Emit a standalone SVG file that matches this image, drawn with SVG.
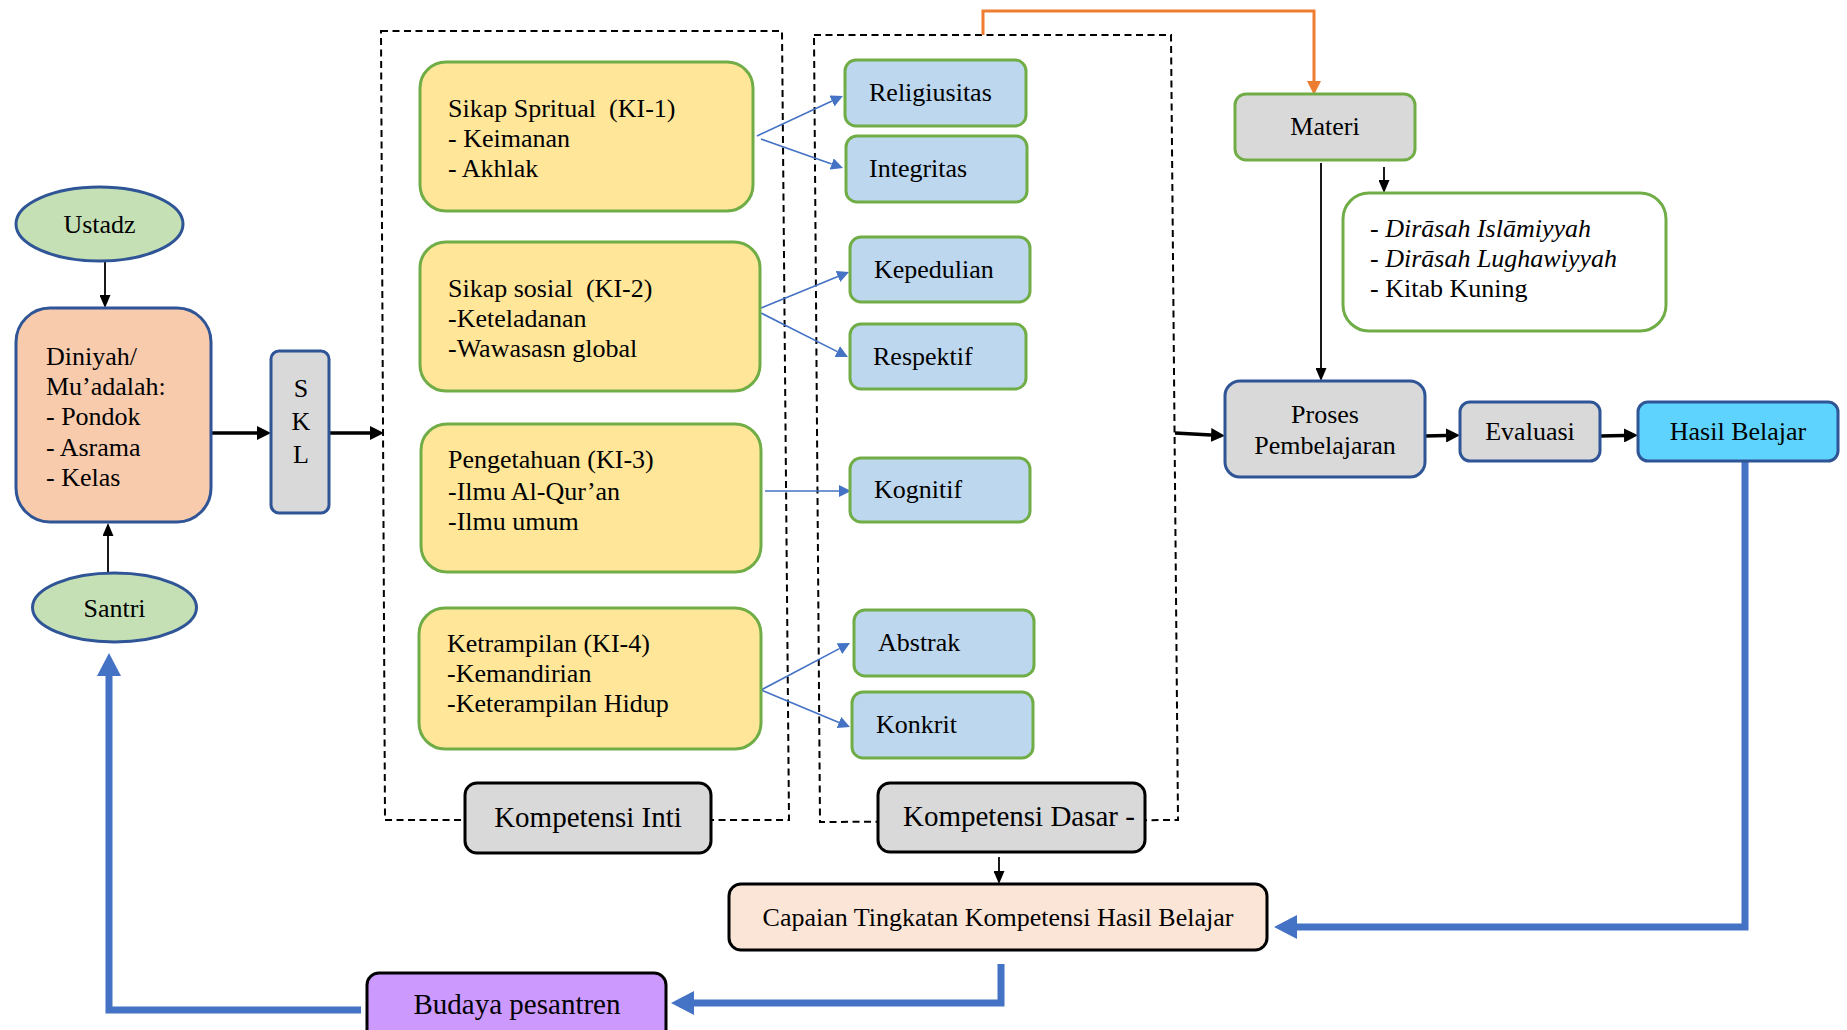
<svg xmlns="http://www.w3.org/2000/svg" width="1847" height="1030" viewBox="0 0 1847 1030">
<defs>
<style>
text{font-family:"Liberation Serif","Times New Roman",serif;font-size:26px;fill:#000}
.c{text-anchor:middle}
.big{font-size:29px}
.it{font-style:italic}
.dash{fill:none;stroke:#000;stroke-width:2;stroke-dasharray:7 4.5}
.yel{fill:#FFE699;stroke:#70AD47;stroke-width:3}
.blu{fill:#BDD7EE;stroke:#70AD47;stroke-width:3}
.gry{fill:#D9D9D9;stroke:#2F5597;stroke-width:3}
.gryk{fill:#D9D9D9;stroke:#000;stroke-width:3}
.thin{fill:none;stroke:#000;stroke-width:1.8}
.thick{fill:none;stroke:#000;stroke-width:3.5}
.bthin{fill:none;stroke:#4472C4;stroke-width:1.6}
.bthick{fill:none;stroke:#4472C4;stroke-width:7}
.orange{fill:none;stroke:#ED7D31;stroke-width:3}
</style>
<marker id="ab" markerUnits="userSpaceOnUse" markerWidth="13" markerHeight="11" refX="0" refY="5.5" orient="auto"><path d="M0,0 L13,5.5 L0,11 z" fill="#000"/></marker>
<marker id="abk" markerUnits="userSpaceOnUse" markerWidth="14" markerHeight="14" refX="0" refY="7" orient="auto"><path d="M0,0 L14,7 L0,14 z" fill="#000"/></marker>
<marker id="abt" markerUnits="userSpaceOnUse" markerWidth="12" markerHeight="12" refX="0" refY="6" orient="auto"><path d="M0,0 L12,6 L0,12 z" fill="#4472C4"/></marker>
<marker id="abb" markerUnits="userSpaceOnUse" markerWidth="23" markerHeight="24" refX="0" refY="12" orient="auto"><path d="M0,0 L23,12 L0,24 z" fill="#4472C4"/></marker>
<marker id="ao" markerUnits="userSpaceOnUse" markerWidth="14" markerHeight="14" refX="0" refY="7" orient="auto"><path d="M0,0 L14,7 L0,14 z" fill="#ED7D31"/></marker>
</defs>

<g id="frames">
<path class="dash" d="M381,31 L782,31 L789,820 L385,820 Z"/>
<path class="dash" d="M814,35 L1171,35 L1178,820 L820,822 Z"/>
</g>

<g id="connectors">
<path class="thin" d="M105,262 L105,295" marker-end="url(#ab)"/>
<path class="thin" d="M108,572 L108,536" marker-end="url(#ab)"/>
<path class="thick" d="M211,433 L257,433" marker-end="url(#abk)"/>
<path class="thick" d="M329,433 L370,433" marker-end="url(#abk)"/>
<path class="thick" d="M1175,433 L1211,435" marker-end="url(#abk)"/>
<path class="thick" d="M1425,436 L1446,435.5" marker-end="url(#abk)"/>
<path class="thick" d="M1600,436 L1624,435.5" marker-end="url(#abk)"/>
<path class="thin" d="M1321,163 L1321,368" marker-end="url(#ab)"/>
<path class="thin" d="M1384,167 L1384,180" marker-end="url(#ab)"/>
<path class="thin" d="M999,857 L999,871" marker-end="url(#ab)"/>
<path class="orange" d="M983,35 L983,11 L1314,11 L1314,81" marker-end="url(#ao)"/>
<path class="bthick" d="M1745,461 L1745,927 L1297,927" marker-end="url(#abb)"/>
<path class="bthick" d="M1001,964 L1001,1003 L694,1003" marker-end="url(#abb)"/>
<path class="bthick" d="M361,1010 L109,1010 L109,676" marker-end="url(#abb)"/>
<path class="bthin" d="M757,136 L832,101" marker-end="url(#abt)"/>
<path class="bthin" d="M761,139 L831.7,164" marker-end="url(#abt)"/>
<path class="bthin" d="M761,308 L837.9,276.5" marker-end="url(#abt)"/>
<path class="bthin" d="M761,313 L837.3,351.6" marker-end="url(#abt)"/>
<path class="bthin" d="M765,491 L839,491" marker-end="url(#abt)"/>
<path class="bthin" d="M761,690 L839.4,648.6" marker-end="url(#abt)"/>
<path class="bthin" d="M761,690 L838.9,722.4" marker-end="url(#abt)"/>
</g>

<g id="ustadz">
<ellipse cx="99.5" cy="224" rx="83.5" ry="37" fill="#C5E0B4" stroke="#2F5597" stroke-width="3"/>
<text class="c" x="99.5" y="233">Ustadz</text>
</g>

<g id="santri">
<ellipse cx="114.5" cy="607.5" rx="82" ry="34.5" fill="#C5E0B4" stroke="#2F5597" stroke-width="3"/>
<text class="c" x="114.5" y="617">Santri</text>
</g>

<g id="diniyah">
<rect x="16" y="308" width="195" height="214" rx="34" fill="#F8CBAD" stroke="#2F5597" stroke-width="3"/>
<text x="46" y="365">Diniyah/</text>
<text x="46" y="395">Mu’adalah:</text>
<text x="46" y="425">- Pondok</text>
<text x="46" y="456">- Asrama</text>
<text x="46" y="486">- Kelas</text>
</g>

<g id="skl">
<rect class="gry" x="271" y="351" width="58" height="162" rx="8"/>
<text class="c" x="301" y="397">S</text>
<text class="c" x="301" y="430">K</text>
<text class="c" x="301" y="463">L</text>
</g>

<g id="ki1">
<rect class="yel" x="420" y="62" width="333" height="149" rx="26"/>
<text x="448" y="117" xml:space="preserve">Sikap Spritual  (KI-1)</text>
<text x="448" y="147">- Keimanan</text>
<text x="448" y="177">- Akhlak</text>
</g>

<g id="ki2">
<rect class="yel" x="420" y="242" width="340" height="149" rx="26"/>
<text x="448" y="297" xml:space="preserve">Sikap sosial  (KI-2)</text>
<text x="448" y="327">-Keteladanan</text>
<text x="448" y="357">-Wawasasn global</text>
</g>

<g id="ki3">
<rect class="yel" x="421" y="424" width="340" height="148" rx="26"/>
<text x="448" y="468">Pengetahuan (KI-3)</text>
<text x="448" y="500">-Ilmu Al-Qur’an</text>
<text x="448" y="530">-Ilmu umum</text>
</g>

<g id="ki4">
<rect class="yel" x="419" y="608" width="342" height="141" rx="26"/>
<text x="447" y="652">Ketrampilan (KI-4)</text>
<text x="447" y="682">-Kemandirian</text>
<text x="447" y="712">-Keterampilan Hidup</text>
</g>

<g id="religiusitas">
<rect class="blu" x="845" y="60" width="181" height="66" rx="11"/>
<text x="869" y="101">Religiusitas</text>
</g>
<g id="integritas">
<rect class="blu" x="846" y="136" width="181" height="66" rx="11"/>
<text x="869" y="177">Integritas</text>
</g>
<g id="kepedulian">
<rect class="blu" x="850" y="237" width="180" height="65" rx="11"/>
<text x="874" y="278">Kepedulian</text>
</g>
<g id="respektif">
<rect class="blu" x="850" y="324" width="176" height="65" rx="11"/>
<text x="873" y="365">Respektif</text>
</g>
<g id="kognitif">
<rect class="blu" x="850" y="458" width="180" height="64" rx="11"/>
<text x="874" y="498">Kognitif</text>
</g>
<g id="abstrak">
<rect class="blu" x="854" y="610" width="180" height="66" rx="11"/>
<text x="878" y="651">Abstrak</text>
</g>
<g id="konkrit">
<rect class="blu" x="852" y="692" width="181" height="66" rx="11"/>
<text x="876" y="733">Konkrit</text>
</g>

<g id="kompetensi-inti">
<rect class="gryk" x="465" y="783" width="246" height="70" rx="12"/>
<text class="c big" x="588" y="827">Kompetensi Inti</text>
</g>

<g id="kompetensi-dasar">
<rect class="gryk" x="878" y="783" width="267" height="69" rx="12"/>
<text class="big" x="903" y="826">Kompetensi Dasar -</text>
</g>

<g id="materi">
<rect x="1235" y="94" width="180" height="66" rx="11" fill="#D9D9D9" stroke="#70AD47" stroke-width="3"/>
<text class="c" x="1325" y="135">Materi</text>
</g>

<g id="dirasah">
<rect x="1343" y="193" width="323" height="138" rx="26" fill="#FFFFFF" stroke="#70AD47" stroke-width="3"/>
<text x="1370" y="237">- <tspan class="it">Dirāsah Islāmiyyah</tspan></text>
<text x="1370" y="267">- <tspan class="it">Dirāsah Lughawiyyah</tspan></text>
<text x="1370" y="297">- Kitab Kuning</text>
</g>

<g id="proses">
<rect class="gry" x="1225" y="381" width="200" height="96" rx="15"/>
<text class="c" x="1325" y="423">Proses</text>
<text class="c" x="1325" y="454">Pembelajaran</text>
</g>

<g id="evaluasi">
<rect class="gry" x="1460" y="402" width="140" height="59" rx="10"/>
<text class="c" x="1530" y="440">Evaluasi</text>
</g>

<g id="hasil-belajar">
<rect x="1638" y="402" width="200" height="59" rx="10" fill="#5DD3FD" stroke="#2F5597" stroke-width="3"/>
<text class="c" x="1738" y="440">Hasil Belajar</text>
</g>

<g id="capaian">
<rect x="729" y="884" width="538" height="66" rx="12" fill="#FBE5D6" stroke="#000" stroke-width="3"/>
<text class="c" x="998" y="926">Capaian Tingkatan Kompetensi Hasil Belajar</text>
</g>

<g id="budaya">
<rect x="367" y="973" width="299" height="70" rx="12" fill="#CC99FF" stroke="#000" stroke-width="3"/>
<text class="c big" x="517" y="1014">Budaya pesantren</text>
</g>
</svg>
